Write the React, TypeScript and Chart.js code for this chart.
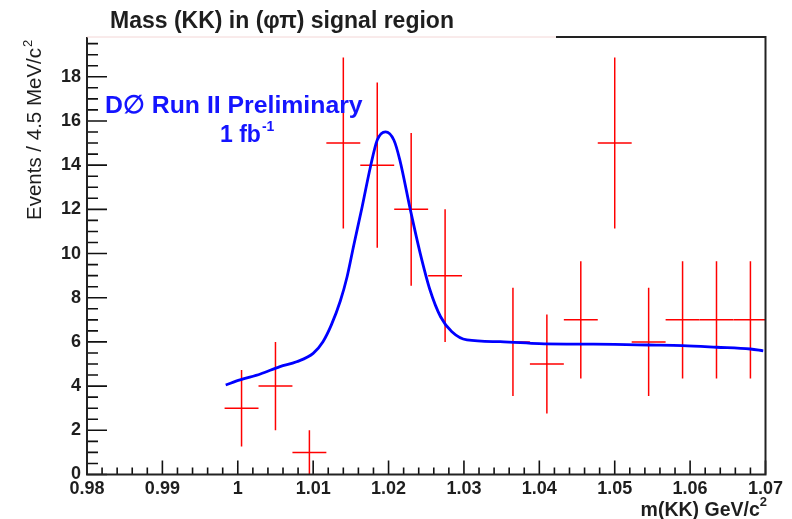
import React, { useEffect, useRef } from "react";
import { Chart, registerables } from "chart.js";

Chart.register(...registerables);

// ---- data ----
const binCenters = [1.0005, 1.005, 1.0095, 1.014, 1.0185, 1.023, 1.0275, 1.0365, 1.041, 1.0455, 1.05, 1.0545, 1.059, 1.0635, 1.068];
const counts = [3, 4, 1, 15, 14, 12, 9, 6, 5, 7, 15, 6, 7, 7, 7];
const countErrors = [1.73, 2, 1, 3.87, 3.74, 3.46, 3, 2.45, 2.24, 2.65, 3.87, 2.45, 2.65, 2.65, 2.65];
const binHalfWidth = 0.00225;

const fitX = [0.9984, 1.0003, 1.003, 1.0056, 1.0078, 1.01, 1.0113, 1.0124, 1.0136, 1.0145, 1.0154, 1.0165, 1.0176, 1.0185, 1.0196, 1.0207, 1.0215, 1.0229, 1.0242, 1.0255, 1.0269, 1.0284, 1.0304, 1.0348, 1.04, 1.045, 1.05, 1.0545, 1.059, 1.0635, 1.068, 1.0697];
const fitY = [4.05, 4.28, 4.55, 4.88, 5.1, 5.48, 6.01, 6.76, 7.85, 8.95, 10.4, 12.12, 13.93, 15.14, 15.51, 15.14, 14.23, 11.97, 10.01, 8.35, 7.14, 6.46, 6.09, 6.01, 5.92, 5.9, 5.89, 5.86, 5.83, 5.76, 5.68, 5.6];

const xMin = 0.98;
const xMax = 1.07;
const yMin = 0;
const yMax = 19.8;

const titleText = "Mass (KK) in (\u03C6\u03C0) signal region";
const yTitleText = "Events / 4.5 MeV/c";
const xTitleText = "m(KK) GeV/c";
const expText = "D\u2205 Run II Preliminary";
const lumiText = "1 fb";
const lumiSup = "-1";

const FONT = '"Liberation Sans", Arial, Helvetica, sans-serif';
const TEXT = "#1e1e1e";

const rootPlugin = {
  id: "rootStyle",
  beforeDatasetsDraw(chart: any) {
    const { ctx, chartArea } = chart;
    const x = chart.scales.x;
    const y = chart.scales.y;
    ctx.save();
    ctx.beginPath();
    ctx.rect(chartArea.left, chartArea.top, chartArea.right - chartArea.left, chartArea.bottom - chartArea.top);
    ctx.clip();
    ctx.strokeStyle = "#ff0000";
    ctx.lineWidth = 1.5;
    binCenters.forEach((c, i) => {
      const px = x.getPixelForValue(c);
      const x0 = x.getPixelForValue(c - binHalfWidth);
      const x1 = x.getPixelForValue(c + binHalfWidth);
      const py = y.getPixelForValue(counts[i]);
      const y0 = y.getPixelForValue(counts[i] - countErrors[i]);
      const y1 = y.getPixelForValue(counts[i] + countErrors[i]);
      ctx.beginPath();
      ctx.moveTo(x0, py);
      ctx.lineTo(x1, py);
      ctx.moveTo(px, y0);
      ctx.lineTo(px, y1);
      ctx.stroke();
    });
    ctx.restore();
  },
  afterDraw(chart: any) {
    const { ctx, chartArea } = chart;
    const { left, right, top, bottom } = chartArea;
    const x = chart.scales.x;
    const y = chart.scales.y;
    ctx.save();

    // ticks (inward)
    ctx.strokeStyle = "#111";
    ctx.lineWidth = 1.6;
    ctx.beginPath();
    for (let i = 0; i <= 45; i++) {
      const v = xMin + i * 0.002;
      const px = x.getPixelForValue(v);
      const len = i % 5 === 0 ? 14 : 7;
      ctx.moveTo(px, bottom);
      ctx.lineTo(px, bottom - len);
    }
    for (let i = 0; i * 0.5 <= yMax; i++) {
      const v = i * 0.5;
      const py = y.getPixelForValue(v);
      const len = i % 4 === 0 ? 20 : 11;
      ctx.moveTo(left, py);
      ctx.lineTo(left + len, py);
    }
    ctx.stroke();

    // frame
    ctx.lineWidth = 2;
    ctx.strokeStyle = "#222";
    ctx.beginPath();
    ctx.moveTo(left, top);
    ctx.lineTo(left, bottom);
    ctx.lineTo(right, bottom);
    ctx.lineTo(right, top);
    ctx.lineTo(556, top);
    ctx.stroke();
    ctx.strokeStyle = "#f3d6d6";
    ctx.lineWidth = 1;
    ctx.beginPath();
    ctx.moveTo(left, top);
    ctx.lineTo(556, top);
    ctx.stroke();

    // title
    ctx.fillStyle = TEXT;
    ctx.textBaseline = "alphabetic";
    ctx.textAlign = "left";
    ctx.font = `bold 23px ${FONT}`;
    ctx.fillText(titleText, 110, 28);

    // experiment label
    ctx.fillStyle = "#1414ff";
    ctx.font = `bold 24.8px ${FONT}`;
    ctx.fillText(expText, 105, 113);
    ctx.font = `bold 23px ${FONT}`;
    ctx.fillText(lumiText, 220, 142);
    const lw = ctx.measureText(lumiText).width;
    ctx.font = `bold 14px ${FONT}`;
    ctx.fillText(lumiSup, 220 + lw + 1, 131);

    // x title
    ctx.fillStyle = TEXT;
    ctx.font = `bold 13px ${FONT}`;
    const supW = ctx.measureText("2").width;
    ctx.font = `bold 19.5px ${FONT}`;
    const xtW = ctx.measureText(xTitleText).width;
    const xEnd = 767;
    ctx.fillText(xTitleText, xEnd - supW - xtW, 516);
    ctx.font = `bold 13px ${FONT}`;
    ctx.fillText("2", xEnd - supW, 506);

    // y title (rotated)
    ctx.save();
    ctx.translate(41, 220);
    ctx.rotate(-Math.PI / 2);
    ctx.font = `20.5px ${FONT}`;
    const ytW = ctx.measureText(yTitleText).width;
    ctx.fillText(yTitleText, 0, 0);
    ctx.font = `13px ${FONT}`;
    ctx.fillText("2", ytW + 1, -9);
    ctx.restore();

    ctx.restore();
  },
};

export default function App() {
  const canvasRef = useRef<HTMLCanvasElement | null>(null);

  useEffect(() => {
    const canvas = canvasRef.current;
    if (!canvas) return;
    const chart = new Chart(canvas, {
      type: "line",
      data: {
        datasets: [
          {
            label: "fit",
            data: fitX.map((v, i) => ({ x: v, y: fitY[i] })),
            borderColor: "#0000ff",
            borderWidth: 2.8,
            pointRadius: 0,
            fill: false,
            cubicInterpolationMode: "monotone",
          },
        ],
      },
      options: {
        responsive: false,
        animation: false,
        events: [],
        layout: { padding: { top: 37, right: 26.5, left: 0, bottom: 0 } },
        plugins: {
          legend: { display: false },
          title: { display: false },
          tooltip: { enabled: false },
        },
        scales: {
          x: {
            type: "linear",
            min: xMin,
            max: xMax,
            grid: { display: false, drawTicks: false },
            border: { display: false },
            ticks: {
              stepSize: 0.01,
              includeBounds: false,
              padding: 4,
              color: TEXT,
              font: { family: FONT, size: 18, weight: "bold" },
              maxRotation: 0,
              autoSkip: false,
              callback: (v: any) => String(Number(Number(v).toFixed(2))),
            },
            afterFit: (s: any) => {
              s.height = 44.5;
            },
          },
          y: {
            type: "linear",
            min: yMin,
            max: yMax,
            grid: { display: false, drawTicks: false },
            border: { display: false },
            ticks: {
              stepSize: 2,
              includeBounds: false,
              padding: 6,
              color: TEXT,
              font: { family: FONT, size: 18, weight: "bold" },
              autoSkip: false,
            },
            afterFit: (s: any) => {
              s.width = 87;
            },
          },
        },
      },
      plugins: [rootPlugin],
    } as any);
    return () => chart.destroy();
  }, []);

  return (
    <div style={{ position: "fixed", left: 0, top: 0, width: 792, height: 519, background: "#fff" }}>
      <canvas ref={canvasRef} width={792} height={519} style={{ width: 792, height: 519, display: "block" }} />
    </div>
  );
}
